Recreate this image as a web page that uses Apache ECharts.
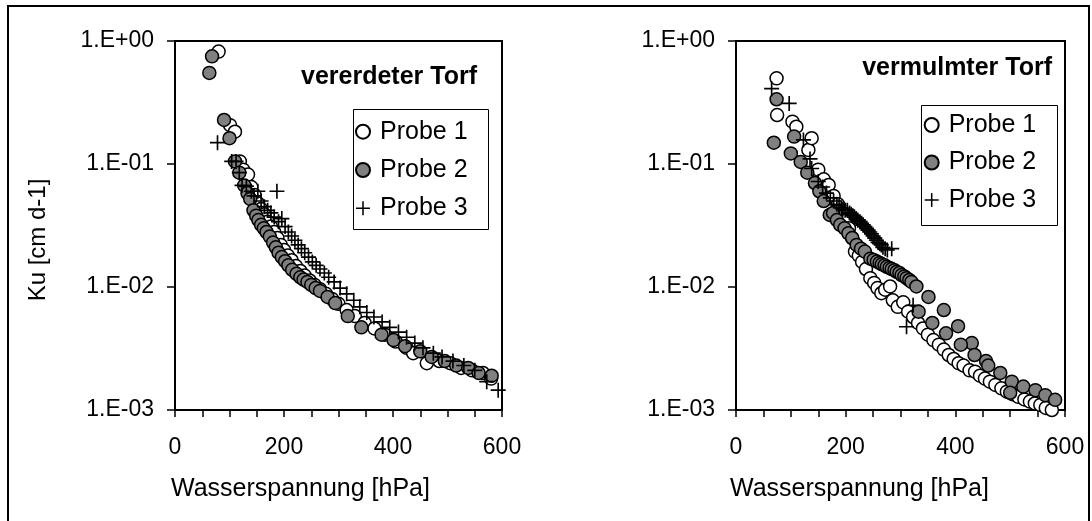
<!DOCTYPE html>
<html>
<head>
<meta charset="utf-8">
<script src="https://cdn.jsdelivr.net/npm/echarts@6/dist/echarts.min.js"></script>
<style>
html,body{margin:0;padding:0;background:#fff;}
#chart{width:1092px;height:521px;}
</style>
</head>
<body>
<div id="chart"></div>
<script>
// ---- data (x = Wasserspannung [hPa], y = Ku [cm d-1]) ----
const seriesNames = ['Probe 1', 'Probe 2', 'Probe 3'];
const panelTitles = ['vererdeter Torf', 'vermulmter Torf'];
const xAxisTitle = 'Wasserspannung [hPa]';
const yAxisTitle = 'Ku [cm d-1]';
const xTickLabels = [0, 200, 400, 600];
const yTickValues = [0.001, 0.01, 0.1, 1];

const vererdeterProbe1 = [[80,0.82],[101,0.207],[110,0.183],[119,0.105],[125,0.09],[134,0.082],[140,0.065],[146,0.056],[152,0.048],[158,0.043],[164,0.039],[170,0.034],[176,0.031],[182,0.028],[188,0.025],[194,0.022],[200,0.020],[207,0.018],[214,0.0165],[222,0.0148],[230,0.0135],[238,0.0124],[247,0.0113],[256,0.0104],[266,0.0096],[277,0.0088],[288,0.008],[300,0.0073],[315,0.0065],[330,0.0058],[348,0.0051],[366,0.0046],[385,0.0041],[405,0.0036],[425,0.0032],[437,0.0029],[462,0.0024],[485,0.0025],[505,0.0024],[525,0.0022],[545,0.0021],[565,0.002],[580,0.0018]];
const vererdeterProbe2 = [[63,0.55],[68,0.75],[90,0.228],[100,0.162],[110,0.105],[118,0.085],[127,0.067],[133,0.058],[138,0.052],[144,0.042],[149,0.038],[153,0.035],[158,0.032],[163,0.030],[168,0.028],[174,0.0257],[180,0.023],[185,0.021],[190,0.019],[196,0.0175],[202,0.0162],[208,0.015],[215,0.0138],[223,0.0128],[230,0.012],[236,0.0115],[243,0.011],[250,0.0104],[258,0.0098],[266,0.0093],[280,0.0083],[294,0.0074],[317,0.0058],[342,0.0047],[379,0.0041],[401,0.0037],[422,0.0033],[450,0.0030],[471,0.0027],[495,0.0025],[516,0.0023],[538,0.0022],[557,0.0020],[581,0.0019]];
const vererdeterProbe3 = [[78,0.149],[104,0.105],[112,0.105],[118,0.085],[123,0.067],[131,0.066],[140,0.06],[145,0.055],[152,0.06],[158,0.05],[164,0.045],[170,0.042],[176,0.04],[187,0.060],[182,0.037],[190,0.034],[196,0.036],[202,0.031],[208,0.028],[214,0.026],[220,0.024],[226,0.022],[232,0.0205],[238,0.019],[245,0.0175],[252,0.016],[259,0.015],[266,0.014],[274,0.013],[282,0.012],[292,0.011],[303,0.0098],[315,0.0088],[328,0.0078],[339,0.0069],[352,0.0062],[365,0.0057],[380,0.0052],[394,0.0047],[410,0.0043],[425,0.0039],[440,0.0035],[455,0.0032],[474,0.0029],[490,0.0027],[510,0.0025],[530,0.0023],[550,0.0021],[572,0.0017],[593,0.00145]];

const vermulmterProbe1 = [[74,0.497],[75,0.25],[103,0.221],[110,0.201],[132,0.130],[138,0.162],[150,0.09],[160,0.075],[169,0.0675],[178,0.055],[186,0.047],[194,0.04],[200,0.035],[206,0.03],[212,0.025],[217,0.0194],[224,0.018],[230,0.016],[237,0.014],[245,0.0118],[252,0.0108],[258,0.0098],[265,0.0089],[272,0.0095],[281,0.0101],[286,0.0078],[295,0.0069],[305,0.0075],[314,0.0063],[323,0.0057],[332,0.0051],[341,0.0046],[350,0.0041],[360,0.0037],[370,0.0034],[379,0.0031],[388,0.0028],[397,0.0026],[406,0.0024],[415,0.0023],[426,0.0021],[436,0.00205],[445,0.0019],[454,0.0018],[463,0.0017],[473,0.0016],[484,0.0015],[494,0.00141],[505,0.00134],[515,0.00128],[526,0.00122],[536,0.00117],[545,0.00113],[555,0.0011],[565,0.00104],[576,0.001]];
const vermulmterProbe2 = [[69,0.149],[74,0.336],[100,0.122],[106,0.167],[118,0.104],[130,0.085],[144,0.070],[152,0.06],[160,0.05],[171,0.0385],[177,0.040],[184,0.035],[190,0.032],[198,0.03],[205,0.0273],[212,0.025],[220,0.022],[228,0.0205],[235,0.0194],[245,0.017],[251,0.0166],[257,0.0161],[262,0.0157],[266,0.0153],[271,0.015],[275,0.0146],[280,0.0143],[284,0.014],[289,0.0137],[293,0.0133],[298,0.013],[302,0.0125],[307,0.0122],[311,0.0118],[316,0.0114],[320,0.011],[329,0.0101],[351,0.0083],[379,0.0065],[405,0.0048],[430,0.0035],[456,0.0025],[482,0.002],[503,0.0017],[524,0.00155],[546,0.00145],[564,0.00132],[582,0.00121],[333,0.0063],[358,0.0051],[383,0.0042],[410,0.0034],[435,0.0028],[460,0.0023],[500,0.00138]];
const vermulmterProbe3 = [[65,0.41],[97,0.311],[123,0.157],[135,0.11],[138,0.092],[150,0.072],[158,0.065],[165,0.058],[172,0.053],[178,0.05],[184,0.047],[188,0.046],[192,0.044],[195,0.043],[199,0.042],[203,0.042],[207,0.04],[210,0.039],[213,0.038],[216,0.037],[219,0.036],[222,0.035],[226,0.034],[229,0.033],[232,0.032],[235,0.031],[238,0.03],[241,0.029],[244,0.028],[247,0.027],[250,0.026],[253,0.025],[256,0.024],[259,0.023],[262,0.0225],[265,0.022],[268,0.021],[272,0.0205],[276,0.02],[284,0.0205],[311,0.00475],[323,0.0071]];

// ---- styling / layout ----
const FONT = "'Liberation Sans', Arial, sans-serif";
const PLUS = 'path://M4.45,0H5.55V4.45H10V5.55H5.55V10H4.45V5.55H0V4.45H4.45Z';

function fmtLog(v){
  const e = Math.round(Math.log10(v));
  const a = Math.abs(e);
  return '1.E' + (e < 0 ? '-' : '+') + (a < 10 ? '0' : '') + a;
}

function mkX(i){
  return {
    type:'value', gridIndex:i, min:0, max:600, interval:50,
    axisLine:{show:true, onZero:false, lineStyle:{color:'#000', width:2}},
    axisTick:{show:true, length:7, lineStyle:{color:'#000', width:1.5}},
    axisLabel:{margin:26, fontSize:23, color:'#000', fontFamily:FONT,
      formatter: v => xTickLabels.indexOf(v) >= 0 ? String(v) : ''},
    splitLine:{show:false}
  };
}
function mkY(i){
  return {
    type:'log', logBase:10, gridIndex:i, min:yTickValues[0], max:yTickValues[yTickValues.length-1],
    axisLine:{show:true, lineStyle:{color:'#000', width:2}},
    axisTick:{show:true, length:8, lineStyle:{color:'#000', width:1.5}},
    axisLabel:{margin:21, fontSize:23, color:'#000', fontFamily:FONT, formatter:fmtLog},
    splitLine:{show:false}, minorTick:{show:false}
  };
}
function mkSeries(name, data, idx, kind){
  const s = {type:'scatter', name:name, data:data, xAxisIndex:idx, yAxisIndex:idx, clip:false};
  if (kind === 0){
    s.symbol='circle'; s.symbolSize=13;
    s.itemStyle={color:'#fff', borderColor:'#000', borderWidth:1.5, opacity:1};
  } else if (kind === 1){
    s.symbol='circle'; s.symbolSize=13;
    s.itemStyle={color:'#808080', borderColor:'#000', borderWidth:1.5, opacity:1};
  } else {
    s.symbol=PLUS; s.symbolSize=15; s.symbolKeepAspect=true;
    s.itemStyle={color:'#000', opacity:1};
  }
  return s;
}
function mkLegend(left, top, gap){
  return {
    data:seriesNames, orient:'vertical', left:left, top:top, padding:0,
    itemWidth:24, itemHeight:14, itemGap:gap, selectedMode:false,
    textStyle:{fontSize:25, color:'#000', fontFamily:FONT, lineHeight:25}
  };
}
function txt(x, y, s, font, align, rot){
  return {type:'text', x:x, y:y, rotation:rot || 0, silent:true,
    style:{text:s, font:font, fill:'#000', textAlign:align, textVerticalAlign:'middle', verticalAlign:'middle'}};
}

const chart = echarts.init(document.getElementById('chart'), null, {renderer:'canvas'});
chart.setOption({
  animation:false,
  backgroundColor:'#fff',
  textStyle:{fontFamily:FONT, color:'#000'},
  grid:[
    {left:175, top:41, width:327, height:369, show:true, borderColor:'#000', borderWidth:2, backgroundColor:'transparent'},
    {left:736, top:41, width:329, height:369, show:true, borderColor:'#000', borderWidth:2, backgroundColor:'transparent'}
  ],
  xAxis:[mkX(0), mkX(1)],
  yAxis:[mkY(0), mkY(1)],
  legend:[mkLegend(355, 119.2, 13.3), mkLegend(923.7, 112.5, 12.5)],
  graphic:[
    {type:'rect', shape:{x:8, y:6, width:1081, height:600}, style:{fill:'none', stroke:'#000', lineWidth:2}, silent:true},
    {type:'rect', shape:{x:353.5, y:109.5, width:135, height:120}, style:{fill:'#fff', stroke:'#000', lineWidth:1}, silent:true, z:-1},
    {type:'rect', shape:{x:921.5, y:105.5, width:136, height:120}, style:{fill:'#fff', stroke:'#000', lineWidth:1}, silent:true, z:-1},
    txt(477, 77, panelTitles[0], 'bold 25px ' + FONT, 'right'),
    txt(1052, 68, panelTitles[1], 'bold 25px ' + FONT, 'right'),
    txt(171, 489, xAxisTitle, '25px ' + FONT, 'left'),
    txt(730, 489, xAxisTitle, '25px ' + FONT, 'left'),
    txt(38, 240, yAxisTitle, '24px ' + FONT, 'center', Math.PI/2)
  ],
  series:[
    mkSeries(seriesNames[0], vererdeterProbe1, 0, 0),
    mkSeries(seriesNames[1], vererdeterProbe2, 0, 1),
    mkSeries(seriesNames[2], vererdeterProbe3, 0, 2),
    mkSeries(seriesNames[0], vermulmterProbe1, 1, 0),
    mkSeries(seriesNames[1], vermulmterProbe2, 1, 1),
    mkSeries(seriesNames[2], vermulmterProbe3, 1, 2)
  ]
});
</script>
</body>
</html>
